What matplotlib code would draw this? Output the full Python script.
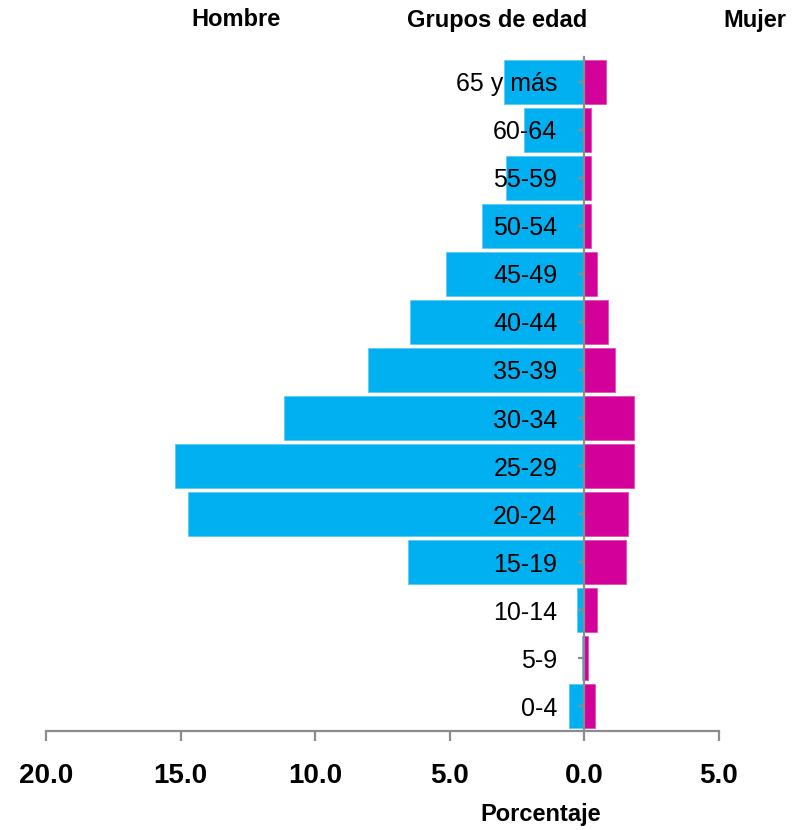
import matplotlib
matplotlib.use("Agg")
import matplotlib.pyplot as plt
import numpy as np

# age groups, bottom to top
grupos = ["0-4", "5-9", "10-14", "15-19", "20-24", "25-29", "30-34",
          "35-39", "40-44", "45-49", "50-54", "55-59", "60-64", "65 y más"]
hombre = [0.58, 0.09, 0.26, 6.54, 14.72, 15.21, 11.16,
          8.03, 6.46, 5.13, 3.82, 2.92, 2.25, 2.99]
mujer = [0.40, 0.15, 0.47, 1.53, 1.62, 1.86, 1.86,
         1.12, 0.87, 0.46, 0.23, 0.23, 0.23, 0.80]
xticks = [-20, -15, -10, -5, 0, 5]
xticklabels = ["20.0", "15.0", "10.0", "5.0", "0.0", "5.0"]

AZUL = "#00B0F0"
MAGENTA = "#D4009A"
GRIS = "#8C8C8C"
FAM = ["Liberation Sans", "DejaVu Sans"]

fig = plt.figure(figsize=(7.95, 8.3), dpi=100)
ax = fig.add_axes([46 / 795, 99 / 830, 673 / 795, 674 / 830])

y = np.arange(len(grupos))
ax.barh(y, [-v for v in hombre], height=0.92, color=AZUL, edgecolor="#5FCBF3", lw=0.6, zorder=1)
ax.barh(y, mujer, height=0.92, color=MAGENTA, edgecolor="#E050B4", lw=0.6, zorder=1)

ax.set_xlim(-20, 5)
ax.set_ylim(-0.52, len(grupos) - 1 + 0.52)

for s in ["top", "right"]:
    ax.spines[s].set_visible(False)
ax.spines["left"].set_position(("data", 0))
for s in ["left", "bottom"]:
    ax.spines[s].set_color(GRIS)
    ax.spines[s].set_linewidth(1.6)

ax.set_yticks(y)
ax.set_yticklabels(grupos, fontsize=18, family=FAM)
ax.tick_params(axis="y", length=4.5, width=1.6, color=GRIS, pad=15)

ax.set_xticks(xticks)
ax.set_xticklabels(xticklabels, fontsize=20, fontweight="bold", family=FAM)
ax.tick_params(axis="x", length=7, width=1.6, color=GRIS, pad=16)

hdr = dict(fontsize=17, fontweight="bold", family=FAM, ha="center", va="center")
fig.text(236 / 795, 1 - 20 / 830, "Hombre", **hdr)
fig.text(497 / 795, 1 - 20 / 830, "Grupos de edad", **hdr)
fig.text(755 / 795, 1 - 20 / 830, "Mujer", **hdr)
fig.text(541 / 795, 1 - 814 / 830, "Porcentaje", fontsize=17, fontweight="bold",
         family=FAM, ha="center", va="center")

fig.savefig("out.png", dpi=100)
